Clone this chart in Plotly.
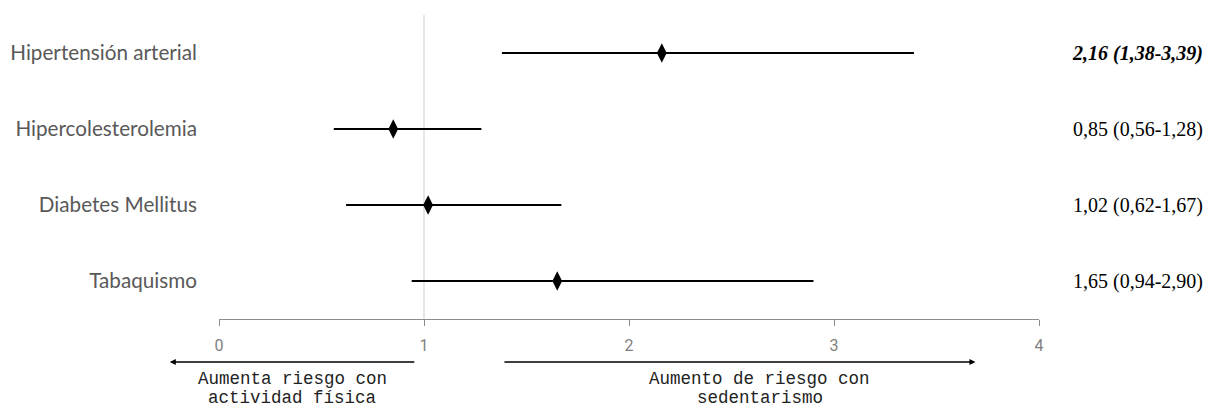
import plotly.graph_objects as go

categories = ["Hipertensión arterial", "Hipercolesterolemia", "Diabetes Mellitus", "Tabaquismo"]
or_values = [2.16, 0.85, 1.02, 1.65]
ci_low = [1.38, 0.56, 0.62, 0.94]
ci_high = [3.39, 1.28, 1.67, 2.90]
right_labels = ["<b><i>2,16 (1,38-3,39)</i></b>", "0,85 (0,56-1,28)", "1,02 (0,62-1,67)", "1,65 (0,94-2,90)"]
x_ticks = [0, 1, 2, 3, 4]
left_note = ["Aumenta riesgo con", "actividad física"]
right_note = ["Aumento de riesgo con", "sedentarismo"]

ypos = list(range(len(categories)))

fig = go.Figure()

# CI lines
for i, (lo, hi) in enumerate(zip(ci_low, ci_high)):
    fig.add_trace(go.Scatter(x=[lo, hi], y=[i, i], mode="lines",
                             line=dict(color="black", width=2.2),
                             showlegend=False, hoverinfo="skip"))

fig.add_trace(go.Scatter(x=or_values, y=ypos, mode="markers",
                         marker=dict(symbol="diamond-tall", size=14, color="black"),
                         showlegend=False))

# reference line at 1
fig.add_shape(type="line", x0=1, x1=1, y0=0, y1=1, xref="x", yref="paper",
              line=dict(color="#d9d9d9", width=1.3), layer="below")

# right labels
for i, t in enumerate(right_labels):
    fig.add_annotation(x=1.2024, xref="paper", y=i, yref="y", text=t, showarrow=False,
                       xanchor="right", yanchor="middle",
                       font=dict(family="Liberation Serif", size=20, color="black"))

# direction arrows
fig.add_annotation(x=-0.24, y=-0.1414, xref="x", yref="paper",
                   ax=0.96, ay=0, axref="x", ayref="pixel",
                   showarrow=True, arrowhead=2, arrowsize=0.8, arrowwidth=1.5,
                   arrowcolor="black", text="")
fig.add_annotation(x=3.69, y=-0.1414, xref="x", yref="paper",
                   ax=1.385, ay=0, axref="x", ayref="pixel",
                   showarrow=True, arrowhead=2, arrowsize=0.8, arrowwidth=1.5,
                   arrowcolor="black", text="")

note_y = [-0.1974, -0.2615]
for xc, lines in ((0.3585, left_note), (2.637, right_note)):
    for yy, line in zip(note_y, lines):
        fig.add_annotation(x=xc, y=yy, xref="x", yref="paper", showarrow=False,
                           yanchor="middle", borderpad=0, text=line,
                           font=dict(family="Liberation Mono", size=17.5, color="#222222"))

fig.update_layout(
    width=1213, height=402,
    margin=dict(l=211, r=182, t=7, b=91),
    plot_bgcolor="white", paper_bgcolor="white",
    xaxis=dict(range=[0, 4], tickvals=x_ticks, ticktext=[str(v) for v in x_ticks],
               showgrid=False, zeroline=False, showline=True, linecolor="#8c8c8c",
               linewidth=1.3, ticks="outside", ticklen=6, tickcolor="#8c8c8c",
               tickwidth=1.3, ticklabelstandoff=6, automargin=False,
               tickfont=dict(family="Roboto", size=16, color="#7f7f7f")),
    yaxis=dict(range=[3.5, -0.5], tickvals=ypos, ticktext=categories,
               showgrid=False, zeroline=False, showline=False, ticks="",
               ticklabelstandoff=21, automargin=False,
               tickfont=dict(family="Lato", size=20.7, color="#595959")),
)

fig.write_html("out.html")
